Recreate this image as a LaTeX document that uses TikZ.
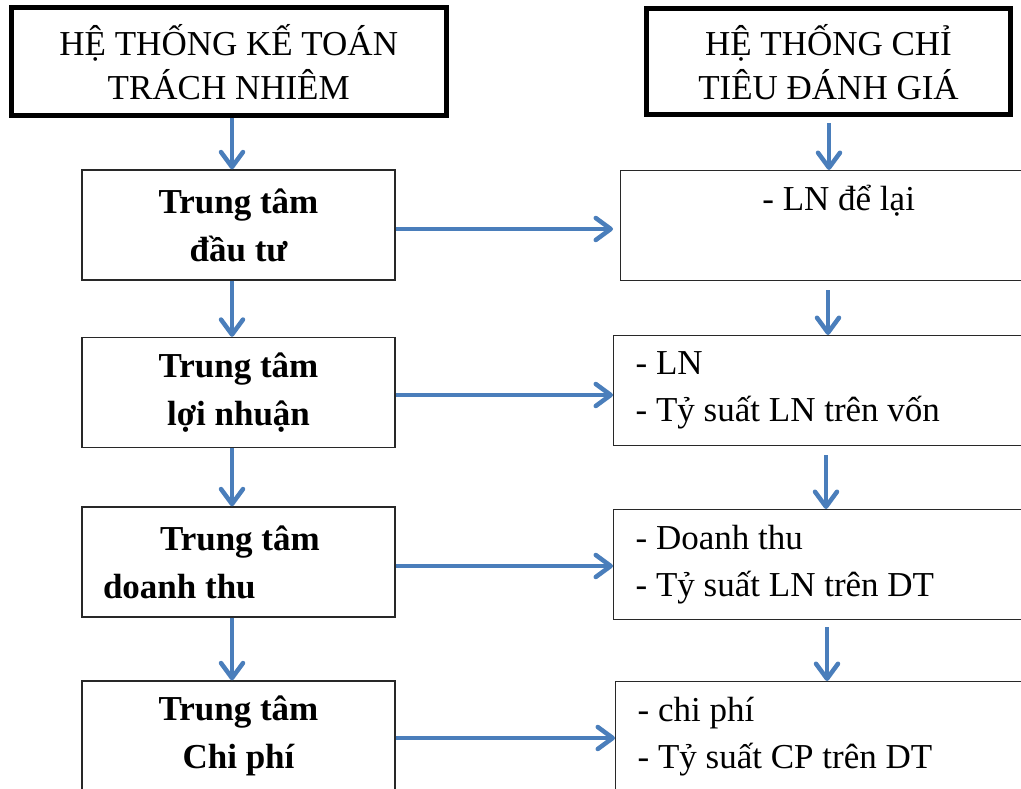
\documentclass[tikz,border=0pt]{standalone}
\usepackage{fontspec}
\setmainfont{Liberation Serif}
\usetikzlibrary{arrows.meta}
\definecolor{flowblue}{RGB}{74,126,187}
\definecolor{edge}{RGB}{40,40,40}
\begin{document}
\begin{tikzpicture}[x=1pt,y=-1pt,
  every node/.style={execute at begin node={\spaceskip=0.25em\relax}},
  header/.style={draw=black,line width=5pt,rectangle,inner sep=0pt,align=center,
    font=\fontsize{35}{44}\selectfont},
  leftbox/.style={draw=edge,line width=1.4pt,rectangle,inner sep=0pt,
    minimum width=313pt,minimum height=110pt,align=center,text width=313pt,
    font=\fontsize{35}{48}\selectfont\bfseries},
  rightbox/.style={draw=edge,line width=1.4pt,rectangle,inner xsep=22pt,inner ysep=0pt,
    minimum width=440pt,minimum height=110pt,align=left,text width=396pt,anchor=north west,
    font=\fontsize{35}{47}\selectfont},
  arr/.style={draw=flowblue,line width=4.5pt,-{Straight Barb[length=15pt,width=22pt,line cap=round,line join=round]}}
]
\useasboundingbox (0,0) rectangle (1021,789);

% column headers
\node[header,minimum width=434.5pt,minimum height=107.5pt] (hL) at (228.75,61.75)
  {HỆ THỐNG KẾ TOÁN\\TRÁCH NHIÊM};
\node[header,minimum width=364pt,minimum height=106pt] (hR) at (828.5,62)
  {HỆ THỐNG CHỈ\\TIÊU ĐÁNH GIÁ};

% responsibility centres
\node[leftbox] (a1) at (238.5,225) {Trung tâm\\đầu tư};
\node[leftbox] (a2) at (238.5,392.5) {Trung tâm\\lợi nhuận};
\node[leftbox,align=left,text width=271pt,inner xsep=21pt] (a3) at (238.5,562)
  {\hspace*{57pt}Trung tâm\\doanh thu};
\node[leftbox] (a4) at (238.5,736) {Trung tâm\\Chi phí};

% evaluation indicators
\node[rightbox,minimum width=436pt,text width=392pt,align=center] (b1) at (620,170)
  {\raisebox{-6pt}{- LN để lại}\\ \strut};
\node[rightbox] (b2) at (613,335) {\raisebox{-4pt}{- LN}\\\raisebox{-4pt}{- Tỷ suất LN trên vốn}};
\node[rightbox] (b3) at (613,509) {\raisebox{-3pt}{- Doanh thu}\\\raisebox{-3pt}{- Tỷ suất LN trên DT}};
\node[rightbox] (b4) at (615,681) {\raisebox{-3pt}{- chi phí}\\\raisebox{-3pt}{- Tỷ suất CP trên DT}};

% left column flow
\draw[arr] (hL.south -| 232,0) -- (a1.north -| 232,0);
\draw[arr] (a1.south -| 232,0) -- (a2.north -| 232,0);
\draw[arr] (a2.south -| 232,0) -- (a3.north -| 232,0);
\draw[arr] (a3.south -| 232,0) -- (a4.north -| 232,0);

% right column flow
\draw[arr] ([yshift=-6pt]hR.south -| 829,0) -- (b1.north -| 829,0);
\draw[arr] ([yshift=-9pt]b1.south -| 828,0) -- (b2.north -| 828,0);
\draw[arr] ([yshift=-9pt]b2.south -| 826,0) -- (b3.north -| 826,0);
\draw[arr] ([yshift=-7pt]b3.south -| 827,0) -- (b4.north -| 827,0);

% centre to indicator links
\draw[arr,shorten >=7pt] ([yshift=-4pt]a1.east) -- ([yshift=-4pt]a1.east -| b1.west);
\draw[arr] ([yshift=-2.5pt]a2.east) -- ([yshift=-2.5pt]a2.east -| b2.west);
\draw[arr] ([yshift=-4pt]a3.east) -- ([yshift=-4pt]a3.east -| b3.west);
\draw[arr] ([yshift=-2pt]a4.east) -- ([yshift=-2pt]a4.east -| b4.west);
\end{tikzpicture}
\end{document}
